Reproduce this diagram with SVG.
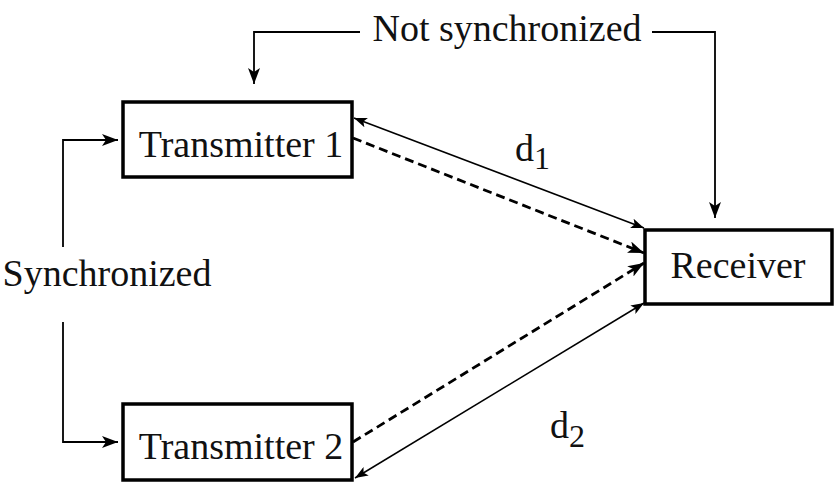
<svg xmlns="http://www.w3.org/2000/svg" width="840" height="492" viewBox="0 0 840 492">
<style>
.box{fill:#fff;stroke:#000;stroke-width:3.5}
.lbl{font-family:"Liberation Serif","Times New Roman",serif;font-size:38px;fill:#111}
.thin{fill:none;stroke:#000;stroke-width:1.5}
.mid{fill:none;stroke:#000;stroke-width:1.8}
.dash{fill:none;stroke:#000;stroke-width:2.8;stroke-dasharray:9,5}
</style>
<defs>
<marker id="ah" markerUnits="userSpaceOnUse" markerWidth="18" markerHeight="12" refX="16" refY="6" orient="auto-start-reverse">
<path d="M0,0 L16,6 L0,12 L4,6 z" fill="#000"/>
</marker>
<marker id="ahs" markerUnits="userSpaceOnUse" markerWidth="14" markerHeight="10" refX="13" refY="5" orient="auto-start-reverse">
<path d="M0,0 L13,5 L0,10 L3,5 z" fill="#000"/>
</marker>
</defs>
<rect width="840" height="492" fill="#fff"/>
<g id="connectors">
<path class="mid" d="M360,32 H254 V84" marker-end="url(#ah)"/>
<path class="mid" d="M652,32 H715 V218" marker-end="url(#ah)"/>
<path class="mid" d="M63,247 V140 H118" marker-end="url(#ah)"/>
<path class="mid" d="M63,322 V442 H118" marker-end="url(#ah)"/>
<path class="thin" d="M354,118 L644,228" marker-start="url(#ahs)" marker-end="url(#ahs)"/>
<path class="dash" d="M353,138 L644,253" marker-end="url(#ah)"/>
<path class="dash" d="M353,442 L644,263" marker-end="url(#ah)"/>
<path class="thin" d="M355,478 L644,303" marker-start="url(#ahs)" marker-end="url(#ahs)"/>
</g>
<g id="tx1">
<rect class="box" x="123" y="102" width="229" height="75"/>
<text class="lbl" x="241" y="157" text-anchor="middle">Transmitter 1</text>
</g>
<g id="tx2">
<rect class="box" x="123" y="404" width="229" height="76"/>
<text class="lbl" x="241" y="459" text-anchor="middle">Transmitter 2</text>
</g>
<g id="rx">
<rect class="box" x="645" y="230" width="187" height="74"/>
<text class="lbl" x="738" y="278" text-anchor="middle">Receiver</text>
</g>
<g id="not-sync">
<text class="lbl" x="507" y="41" text-anchor="middle">Not synchronized</text>
</g>
<g id="sync">
<text class="lbl" x="107" y="286" text-anchor="middle">Synchronized</text>
</g>
<g id="d1">
<text class="lbl" x="515" y="161">d<tspan dy="8" style="font-size:32px">1</tspan></text>
</g>
<g id="d2">
<text class="lbl" x="550" y="438">d<tspan dy="9" style="font-size:32px">2</tspan></text>
</g>
</svg>
